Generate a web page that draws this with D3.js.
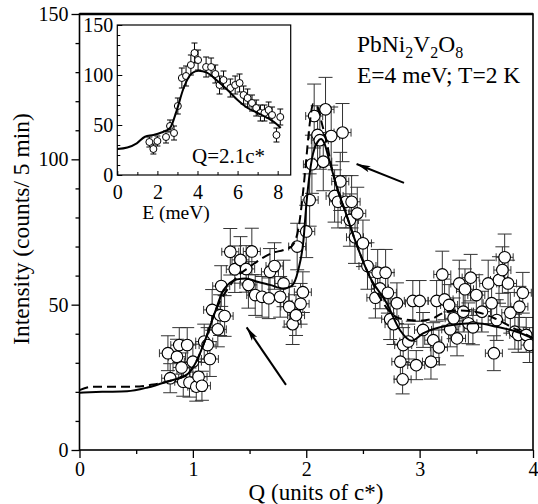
<!DOCTYPE html>
<html><head><meta charset="utf-8">
<script src="https://cdn.jsdelivr.net/npm/d3@7"></script>
<style>
body{margin:0;background:#fff}
svg{display:block}
</style>
</head><body><svg id="c" width="538" height="504" font-family="Liberation Serif"></svg>
<script>
// ---------- DATA ----------
// Main panel: [Q (units of c*), intensity (counts/5 min), y-error]
const mainData = [
[0.78,33.3,6],[0.80,24.7,5],[0.86,32.1,6],[0.88,36.1,6],[0.90,28.4,5],[0.915,23.5,5],[0.95,36.1,6],[0.97,23.2,5],
[1.00,30.4,6],[1.03,21.8,5],[1.05,25.2,5],[1.08,22.1,5],[1.10,37.3,6],[1.13,36.1,6],[1.15,31.3,6],[1.17,48.2,7],
[1.22,41.5,6],[1.24,46.4,7],[1.28,46.1,7],[1.25,56.4,7],[1.33,68.2,8],[1.37,62.2,8],[1.42,65.4,8],[1.47,62.3,8],
[1.49,56.8,8],[1.52,68.3,8],[1.55,53.3,7],[1.61,52.7,7],[1.67,52.2,7],[1.68,61.3,8],[1.72,63.3,8],[1.77,52.7,7],
[1.80,57.3,8],[1.85,49.3,7],[1.88,43.3,7],[1.91,46.4,7],[1.92,70.0,8],[1.95,50.3,7],[1.97,54.3,7],[2.00,75.2,9],
[2.03,86.0,9],[2.05,98.3,10],[2.07,114.9,11],[2.10,108.4,10],[2.12,106.6,10],[2.15,99.2,10],[2.17,117.2,11],
[2.22,108.0,10],[2.25,87.4,9],[2.28,85.4,9],[2.30,92.4,10],[2.32,109.2,10],[2.35,85.4,9],[2.385,79.1,9],
[2.40,85.4,9],[2.43,73.2,9],[2.45,81.4,9],[2.50,71.1,8],[2.54,63.3,8],[2.61,52.4,7],[2.63,61.0,8],[2.65,55.6,7],
[2.70,61.0,8],[2.72,54.1,7],[2.74,45.0,7],[2.77,43.3,7],[2.80,50.5,7],[2.83,30.4,6],[2.85,24.3,5],[2.855,36.1,6],
[2.90,37.3,6],[2.94,51.3,7],[2.97,29.2,5],[3.00,51.3,7],[3.03,41.3,6],[3.10,30.4,6],[3.12,37.8,6],[3.15,51.3,7],
[3.17,35.3,6],[3.20,60.4,8],[3.22,51.8,7],[3.26,49.9,7],[3.27,41.5,6],[3.30,45.3,7],[3.33,38.4,6],[3.35,57.3,8],
[3.385,47.6,7],[3.40,55.3,7],[3.43,43.6,7],[3.45,59.3,8],[3.47,42.2,6],[3.50,53.3,7],[3.55,47.6,7],[3.605,57.3,8],
[3.635,50.5,7],[3.655,33.3,6],[3.68,44.7,7],[3.70,58.5,8],[3.73,61.9,8],[3.75,66.3,8],[3.78,57.3,8],[3.80,47.2,7],
[3.84,40.7,6],[3.87,39.6,6],[3.88,49.3,7],[3.91,54.1,7],[3.94,39.6,6],[3.97,36.1,6]
];
const qErr = 0.075; // horizontal (Q) resolution bar, units of c*

// Model curves: [Q, intensity]
const solidCurve = [
[0,19.7],[0.2,20.0],[0.42,20.2],[0.6,21.5],[0.77,23.5],[0.95,26.0],[1.03,30.4],[1.12,39.0],[1.2,48.0],[1.27,55.0],
[1.39,58.7],[1.47,59.0],[1.56,58.0],[1.68,56.8],[1.8,55.6],[1.87,56.4],[1.93,62.0],[1.975,72.0],[2.0,84.0],
[2.03,95.0],[2.06,102.0],[2.1,106.0],[2.13,107.0],[2.16,105.5],[2.194,101.0],[2.268,90.6],[2.35,81.4],[2.43,72.2],
[2.56,59.6],[2.71,50.5],[2.826,41.3],[2.93,37.6],[3.03,40.1],[3.18,42.2],[3.33,43.3],[3.5,43.6],[3.68,42.4],
[3.855,40.7],[4.0,38.4]
];
const dashedCurve = [
[0,20.6],[0.12,21.8],[0.47,21.8],[0.65,22.5],[0.77,23.5],[0.95,26.0],[1.03,30.4],[1.12,39.0],[1.2,48.0],[1.3,55.0],
[1.4,60.0],[1.5,63.0],[1.6,65.7],[1.7,67.8],[1.8,68.8],[1.87,70.0],[1.93,76.0],[1.97,88.0],[2.0,100.0],[2.03,112.0],
[2.06,119.0],[2.1,118.0],[2.14,112.0],[2.18,106.0],[2.22,98.0],[2.268,90.6],[2.35,81.4],[2.43,72.2],[2.56,59.6],
[2.65,52.5],[2.75,47.0],[2.85,45.0],[3.0,44.5],[3.1,45.0],[3.2,47.0],[3.35,48.0],[3.5,47.5],[3.65,45.5],[3.8,42.5],
[4.0,38.5]
];

// Inset: [E (meV), intensity, y-error]
const insetData = [
[1.6,33,5],[1.8,26,5],[2.0,34,5],[2.43,38,6],[2.63,49,6],[2.83,42,7],[3.02,69,8],[3.22,97,10],[3.43,99,10],
[3.67,110,10],[3.85,122,10],[4.03,115,10],[4.43,108,10],[4.68,108,9],[4.89,101,9],[5.1,90,9],[5.3,95,9],
[5.64,87,9],[5.88,90,9],[6.1,92,9],[6.3,80,9],[6.5,77,9],[6.72,72,8],[6.93,67,8],[7.14,62,8],[7.34,62,8],
[7.55,65,8],[7.72,60,8],[7.94,40,7],[8.13,58,8]
];
const insetCurve = [
[0,26],[0.5,27.5],[0.97,31.7],[1.38,38.3],[1.8,40],[2.2,42.5],[2.63,47],[2.97,65],[3.3,86.5],[3.72,101.7],
[4.05,104.3],[4.47,102.3],[5.0,94],[5.5,85],[6.0,75],[6.5,67],[7.0,62],[7.5,57],[8.0,50],[8.15,47]
];

// Axis ticks
const mainXMajor = [0,1,2,3,4];
const mainXMinor = [0.5,1.5,2.5,3.5];
const mainYMajor = [0,50,100,150];
const mainYMinor = [10,20,30,40,60,70,80,90,110,120,130,140];
const insetXMajor = [0,2,4,6,8];
const insetXMinor = [1,3,5,7];
const insetYMajor = [0,50,100,150];
const insetYMinor = [10,20,30,40,60,70,80,90,110,120,130,140];

// Labels
const xTitle = "Q (units of c*)";
const yTitle = "Intensity (counts/ 5 min)";
const insetXTitle = "E (meV)";
const insetNote = "Q=2.1c*";
const compound = [["PbNi",false],["2",true],["V",false],["2",true],["O",false],["8",true]];
const condition = "E=4 meV; T=2 K";
// Arrows in data coords: [Qtail, Itail, Qhead, Ihead]
const arrows = [[2.862,91.9,2.444,98.4],[1.821,22.4,1.474,42.2]];

// ---------- DRAW ----------
const svg = d3.select("#c");
const FONT = "Liberation Serif";
const x = d3.scaleLinear().domain([0,4]).range([79.5,533]);
const y = d3.scaleLinear().domain([0,150]).range([450,14]);

svg.append("defs").append("clipPath").attr("id","pc")
  .append("rect").attr("x",x(0)).attr("y",y(150)).attr("width",x(4)-x(0)).attr("height",y(0)-y(150));
svg.select("defs").append("marker").attr("id","ah").attr("markerUnits","userSpaceOnUse")
  .attr("viewBox","0 0 14 8").attr("refX",14).attr("refY",4).attr("markerWidth",14).attr("markerHeight",8)
  .attr("orient","auto").append("path").attr("d","M0,0.8L14,4L0,7.2L3,4Z").attr("fill","#000");

function styleAxis(g, size){
  g.attr("font-family",FONT).attr("font-size",size);
  g.select(".domain").remove();
  g.selectAll(".tick line").attr("stroke","#000").attr("stroke-width",1.3);
  g.selectAll(".tick text").attr("fill","#000");
}

// main axes
svg.append("g").attr("transform",`translate(0,${y(0)})`)
  .call(d3.axisBottom(x).tickValues(mainXMajor).tickSize(8).tickPadding(4).tickFormat(d3.format("d")))
  .call(g=>styleAxis(g,20));
svg.append("g").attr("transform",`translate(0,${y(0)})`)
  .call(d3.axisBottom(x).tickValues(mainXMinor).tickSize(4).tickFormat(""))
  .call(g=>styleAxis(g,20));
svg.append("g").attr("transform",`translate(${x(0)},0)`)
  .call(d3.axisLeft(y).tickValues(mainYMajor).tickSize(8).tickPadding(3).tickFormat(d3.format("d")))
  .call(g=>styleAxis(g,20));
svg.append("g").attr("transform",`translate(${x(0)},0)`)
  .call(d3.axisLeft(y).tickValues(mainYMinor).tickSize(4).tickFormat(""))
  .call(g=>styleAxis(g,20));

// data layer
const plot = svg.append("g").attr("clip-path","url(#pc)");
const eb = plot.append("g").attr("stroke","#333").attr("stroke-width",1).attr("fill","none");
mainData.forEach(([q,v,e])=>{
  const cx=x(q), cy=y(v), cw=7;
  eb.append("line").attr("x1",cx).attr("x2",cx).attr("y1",y(v+e)).attr("y2",y(v-e));
  eb.append("line").attr("x1",cx-cw).attr("x2",cx+cw).attr("y1",y(v+e)).attr("y2",y(v+e));
  eb.append("line").attr("x1",cx-cw).attr("x2",cx+cw).attr("y1",y(v-e)).attr("y2",y(v-e));
  eb.append("line").attr("x1",x(q-qErr)).attr("x2",x(q+qErr)).attr("y1",cy).attr("y2",cy);
  eb.append("line").attr("x1",x(q-qErr)).attr("x2",x(q-qErr)).attr("y1",cy-4).attr("y2",cy+4);
  eb.append("line").attr("x1",x(q+qErr)).attr("x2",x(q+qErr)).attr("y1",cy-4).attr("y2",cy+4);
});
plot.append("g").selectAll("circle").data(mainData).join("circle")
  .attr("cx",d=>x(d[0])).attr("cy",d=>y(d[1])).attr("r",5.8)
  .attr("fill","#fff").attr("stroke","#000").attr("stroke-width",1.1);

const line = d3.line().x(d=>x(d[0])).y(d=>y(d[1])).curve(d3.curveMonotoneX);
plot.append("path").attr("d",line(dashedCurve)).attr("fill","none").attr("stroke","#000")
  .attr("stroke-width",2).attr("stroke-dasharray","9,5");
plot.append("path").attr("d",line(solidCurve)).attr("fill","none").attr("stroke","#000").attr("stroke-width",2);

// frame
svg.append("rect").attr("x",x(0)).attr("y",y(150)).attr("width",x(4)-x(0)).attr("height",y(0)-y(150))
  .attr("fill","none").attr("stroke","#000").attr("stroke-width",1.6);
svg.append("line").attr("x1",x(0)).attr("x2",x(4)).attr("y1",y(150)).attr("y2",y(150))
  .attr("stroke","#000").attr("stroke-width",2.4);

// titles
svg.append("text").attr("x",316).attr("y",500).attr("text-anchor","middle")
  .attr("font-size",23).text(xTitle);
svg.append("text").attr("transform",`translate(29,229) rotate(-90)`).attr("text-anchor","middle")
  .attr("font-size",23.5).text(yTitle);

// annotations
const t1 = svg.append("text").attr("x",x(2.447)).attr("y",y(136.9)).attr("font-size",23.5);
compound.forEach(([s,sub],i)=>{
  if(sub) t1.append("tspan").attr("font-size",16).attr("dy",6).text(s);
  else t1.append("tspan").attr("dy",i?-6:0).text(s);
});
svg.append("text").attr("x",x(2.447)).attr("y",y(126.1)).attr("font-size",23.5).text(condition);

arrows.forEach(([q1,v1,q2,v2])=>{
  svg.append("line").attr("x1",x(q1)).attr("y1",y(v1)).attr("x2",x(q2)).attr("y2",y(v2))
    .attr("stroke","#000").attr("stroke-width",2).attr("marker-end","url(#ah)");
});

// ---------- INSET ----------
const ix = d3.scaleLinear().domain([0,8.65]).range([117.3,290.7]);
const iy = d3.scaleLinear().domain([0,150]).range([175,25]);
const inset = svg.append("g");
inset.append("rect").attr("x",ix(0)).attr("y",iy(150)).attr("width",ix(8.65)-ix(0)).attr("height",iy(0)-iy(150))
  .attr("fill","#fff");
inset.append("g").attr("transform",`translate(0,${iy(0)})`)
  .call(d3.axisBottom(ix).tickValues(insetXMajor).tickSize(-4).tickPadding(10).tickFormat(d3.format("d")))
  .call(g=>styleAxis(g,20));
inset.append("g").attr("transform",`translate(0,${iy(0)})`)
  .call(d3.axisBottom(ix).tickValues(insetXMinor).tickSize(-3).tickFormat(""))
  .call(g=>styleAxis(g,20));
inset.append("g").attr("transform",`translate(${ix(0)},0)`)
  .call(d3.axisLeft(iy).tickValues(insetYMajor).tickSize(-5).tickPadding(4).tickFormat(d3.format("d")))
  .call(g=>styleAxis(g,20));
inset.append("g").attr("transform",`translate(${ix(0)},0)`)
  .call(d3.axisLeft(iy).tickValues(insetYMinor).tickSize(-3).tickFormat(""))
  .call(g=>styleAxis(g,20));
inset.selectAll(".tick line").attr("stroke-width",1);

const ieb = inset.append("g").attr("stroke","#000").attr("stroke-width",1);
insetData.forEach(([E,v,e])=>{
  const cx=ix(E);
  ieb.append("line").attr("x1",cx).attr("x2",cx).attr("y1",iy(v+e)).attr("y2",iy(v-e));
  ieb.append("line").attr("x1",cx-3).attr("x2",cx+3).attr("y1",iy(v+e)).attr("y2",iy(v+e));
  ieb.append("line").attr("x1",cx-3).attr("x2",cx+3).attr("y1",iy(v-e)).attr("y2",iy(v-e));
});
inset.append("g").selectAll("circle").data(insetData).join("circle")
  .attr("cx",d=>ix(d[0])).attr("cy",d=>iy(d[1])).attr("r",3.5)
  .attr("fill","#fff").attr("stroke","#000").attr("stroke-width",1);
const iline = d3.line().x(d=>ix(d[0])).y(d=>iy(d[1])).curve(d3.curveMonotoneX);
inset.append("path").attr("d",iline(insetCurve)).attr("fill","none").attr("stroke","#000").attr("stroke-width",2);
inset.append("rect").attr("x",ix(0)).attr("y",iy(150)).attr("width",ix(8.65)-ix(0)).attr("height",iy(0)-iy(150))
  .attr("fill","none").attr("stroke","#000").attr("stroke-width",1.2);
inset.append("text").attr("x",192).attr("y",163).attr("font-size",21).text(insetNote);
inset.append("text").attr("x",176).attr("y",219).attr("text-anchor","middle").attr("font-size",19.5).text(insetXTitle);

svg.selectAll("text").attr("font-family",FONT).style("font-family",FONT).attr("fill","#000");
</script>
</body></html>
